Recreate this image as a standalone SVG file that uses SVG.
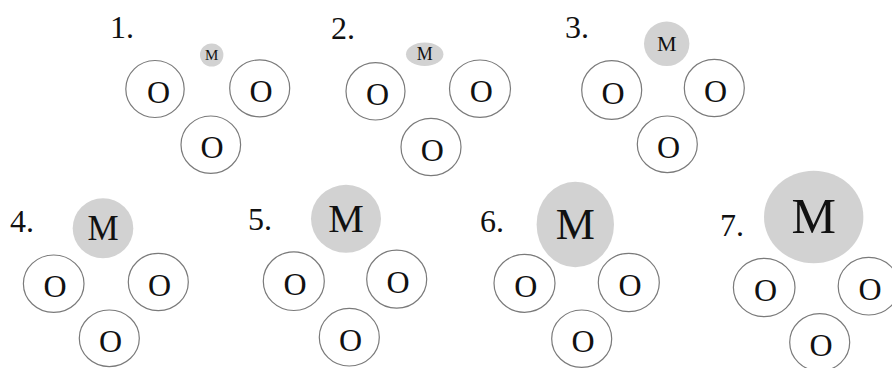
<svg xmlns="http://www.w3.org/2000/svg" width="892" height="368" viewBox="0 0 892 368">
<style>
text{font-family:"Liberation Serif","Times New Roman",serif;fill:#111}
.lab{font-size:32px}
.o ellipse{fill:#fff;stroke:#7a7a7a;stroke-width:1.2}
.o text{font-size:32px;text-anchor:middle}
.m ellipse{fill:#d2d2d2;stroke:none}
.m text{text-anchor:middle}
</style>
<rect width="892" height="368" fill="#fff"/>
<g id="connectors"/>
<!-- Panel 1 -->
<g id="p1">
<text class="lab" x="110" y="38">1.</text>
<g id="p1-m" class="m"><ellipse cx="211.7" cy="55" rx="11.7" ry="11.5"/><text x="211.7" y="60" style="font-size:15px">M</text></g>
<g id="p1-o1" class="o"><ellipse cx="155" cy="89" rx="29.2" ry="28.5"/><text x="158.5" y="102.5">O</text></g>
<g id="p1-o2" class="o"><ellipse cx="259.7" cy="88.3" rx="30" ry="28.5"/><text x="261" y="101.8">O</text></g>
<g id="p1-o3" class="o"><ellipse cx="210.8" cy="144.7" rx="29.8" ry="28.7"/><text x="212" y="158.2">O</text></g>
</g>
<!-- Panel 2 -->
<g id="p2">
<text class="lab" x="331" y="39">2.</text>
<g id="p2-m" class="m"><ellipse cx="424.7" cy="54.3" rx="18.7" ry="11.7"/><text x="424.7" y="60.3" style="font-size:18px">M</text></g>
<g id="p2-o1" class="o"><ellipse cx="375.5" cy="91.3" rx="29.5" ry="28.7"/><text x="377.5" y="104.8">O</text></g>
<g id="p2-o2" class="o"><ellipse cx="480" cy="88.7" rx="30.5" ry="28.7"/><text x="481.3" y="102.2">O</text></g>
<g id="p2-o3" class="o"><ellipse cx="431" cy="147" rx="30" ry="28.7"/><text x="432.3" y="160.5">O</text></g>
</g>
<!-- Panel 3 -->
<g id="p3">
<text class="lab" x="565" y="38">3.</text>
<g id="p3-m" class="m"><ellipse cx="666.7" cy="43.8" rx="22.7" ry="22.3"/><text x="666.7" y="51.2" style="font-size:22px">M</text></g>
<g id="p3-o1" class="o"><ellipse cx="611.7" cy="90" rx="30" ry="29.3"/><text x="613" y="103.5">O</text></g>
<g id="p3-o2" class="o"><ellipse cx="714.3" cy="88" rx="30" ry="28.7"/><text x="715.6" y="101.5">O</text></g>
<g id="p3-o3" class="o"><ellipse cx="667.3" cy="144.3" rx="30" ry="28.3"/><text x="668.6" y="157.8">O</text></g>
</g>
<!-- Panel 4 -->
<g id="p4">
<text class="lab" x="10" y="232">4.</text>
<g id="p4-m" class="m"><ellipse cx="103" cy="228.3" rx="30.3" ry="30"/><text x="103" y="239.8" style="font-size:35px">M</text></g>
<g id="p4-o1" class="o"><ellipse cx="53.7" cy="283.7" rx="30.3" ry="28.7"/><text x="55" y="297.2">O</text></g>
<g id="p4-o2" class="o"><ellipse cx="158.3" cy="282" rx="30" ry="28.7"/><text x="159.6" y="295.5">O</text></g>
<g id="p4-o3" class="o"><ellipse cx="109.3" cy="338.3" rx="30" ry="28.3"/><text x="110.6" y="351.8">O</text></g>
</g>
<!-- Panel 5 -->
<g id="p5">
<text class="lab" x="248" y="230">5.</text>
<g id="p5-m" class="m"><ellipse cx="346" cy="218.8" rx="35" ry="34"/><text x="346" y="232" style="font-size:40px">M</text></g>
<g id="p5-o1" class="o"><ellipse cx="293.8" cy="281.2" rx="30.5" ry="29.3"/><text x="295.1" y="294.7">O</text></g>
<g id="p5-o2" class="o"><ellipse cx="396.7" cy="279.2" rx="30" ry="29"/><text x="398" y="292.7">O</text></g>
<g id="p5-o3" class="o"><ellipse cx="349.3" cy="337.2" rx="30" ry="28.8"/><text x="350.6" y="350.7">O</text></g>
</g>
<!-- Panel 6 -->
<g id="p6">
<text class="lab" x="480" y="231.7">6.</text>
<g id="p6-m" class="m"><ellipse cx="575.3" cy="224.5" rx="38.7" ry="42.8"/><text x="575.3" y="239" style="font-size:44px">M</text></g>
<g id="p6-o1" class="o"><ellipse cx="524.5" cy="283.3" rx="30.5" ry="29"/><text x="525.8" y="296.8">O</text></g>
<g id="p6-o2" class="o"><ellipse cx="628.8" cy="282.5" rx="30.5" ry="29.2"/><text x="630.1" y="296">O</text></g>
<g id="p6-o3" class="o"><ellipse cx="581.7" cy="338.7" rx="30" ry="28.7"/><text x="583" y="352.2">O</text></g>
</g>
<!-- Panel 7 -->
<g id="p7">
<text class="lab" x="720" y="235.5">7.</text>
<g id="p7-m" class="m"><ellipse cx="813.7" cy="217" rx="49.7" ry="46.3"/><text x="813.7" y="233" style="font-size:50px">M</text></g>
<g id="p7-o1" class="o"><ellipse cx="764.2" cy="287.5" rx="30.8" ry="29.2"/><text x="765.5" y="301">O</text></g>
<g id="p7-o2" class="o"><ellipse cx="868.7" cy="286.2" rx="30.5" ry="28.8"/><text x="870" y="299.7">O</text></g>
<g id="p7-o3" class="o"><ellipse cx="819.7" cy="342.3" rx="30" ry="28.7"/><text x="821" y="355.8">O</text></g>
</g>
</svg>
